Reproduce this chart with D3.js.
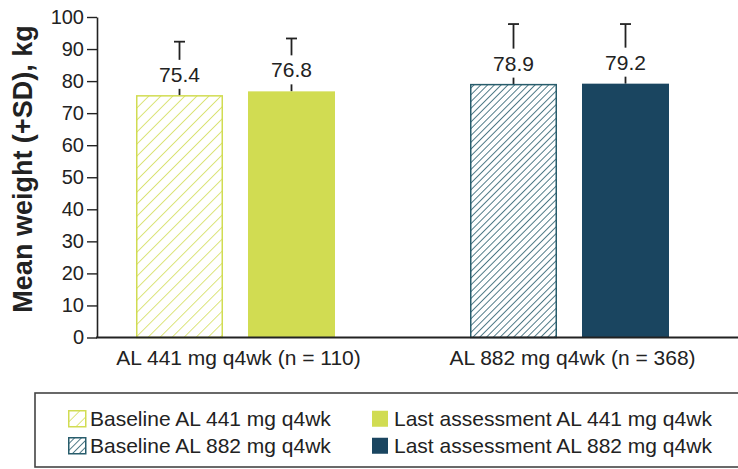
<!DOCTYPE html>
<html>
<head>
<meta charset="utf-8">
<script src="https://cdn.jsdelivr.net/npm/d3@7"></script>
<style>
  body { margin: 0; background: #fff; }
  svg { display: block; font-family: "Liberation Sans", Arial, sans-serif; }
</style>
</head>
<body>
<div id="chart"></div>
<script>
// chart data
const groups = ["AL 441 mg q4wk (n = 110)", "AL 882 mg q4wk (n = 368)"]
const series = ["baseline", "last"]
const baselineMean = [75.4, 78.9]
const baselineSD = [16.9, 18.9]
const lastMean = [76.8, 79.2]
const lastSD = [16.5, 18.6]
const yTicks = [0, 10, 20, 30, 40, 50, 60, 70, 80, 90, 100]
const legendLabels = [
  "Baseline AL 441 mg q4wk", "Last assessment AL 441 mg q4wk",
  "Baseline AL 882 mg q4wk", "Last assessment AL 882 mg q4wk"
]

const width = 738
const height = 469
const lime = "#d1dc52", navy = "#1a4560", teal = "#285d6c", ink = "#222"

const svg = d3.select("#chart")
  .append("svg")
    .attr("width", width)
    .attr("height", height)

// hatch patterns
const defs = svg.append("defs")
function hatch(id, gap, color, sw) {
  const p = defs.append("pattern")
    .attr("id", id)
    .attr("patternUnits", "userSpaceOnUse")
    .attr("width", gap).attr("height", gap)
    .attr("patternTransform", "rotate(45)")
  p.append("rect").attr("width", gap).attr("height", gap).attr("fill", "#fff")
  p.append("line")
    .attr("x1", 0).attr("y1", 0).attr("x2", 0).attr("y2", gap)
    .attr("stroke", color).attr("stroke-width", sw)
}
hatch("h441", 8.5, lime, 1.5)
hatch("h882", 4.8, teal, 1.6)

// build rows from the arrays
const rows = []
groups.forEach((g, i) => {
  rows.push({ group: g, i, key: "baseline", mean: baselineMean[i], sd: baselineSD[i] })
  rows.push({ group: g, i, key: "last", mean: lastMean[i], sd: lastSD[i] })
})
const fillOf = d => d.key == "last" ? (d.i == 0 ? lime : navy) : (d.i == 0 ? "url(#h441)" : "url(#h882)")
const strokeOf = d => d.key == "last" ? "none" : (d.i == 0 ? lime : teal)

// scales
const x0 = d3.scaleBand().domain(groups).range([68.5, 736.5])
const x1 = d3.scaleBand().domain(series).range([67.5, 266.5]).paddingInner(0.2232)
const y = d3.scaleLinear().domain([0, 100]).range([337.5, 17])

// y axis
const yAxis = svg.append("g")
  .attr("transform", "translate(97,0)")
  .call(d3.axisLeft(y).tickValues(yTicks).tickSize(10).tickPadding(3).tickSizeOuter(0))
yAxis.select(".domain").attr("stroke", ink).attr("stroke-width", 1.6)
yAxis.selectAll(".tick line").attr("stroke", ink).attr("stroke-width", 1.4)
yAxis.selectAll(".tick text")
  .attr("fill", ink)
  .style("font-size", "20px")
  .style("font-family", "Liberation Sans, Arial, sans-serif")

svg.append("text")
  .attr("transform", "translate(32,169) rotate(-90)")
  .attr("text-anchor", "middle")
  .attr("fill", ink)
  .style("font-size", "27px")
  .style("font-weight", "bold")
  .text("Mean weight (+SD), kg")

// bars
const bar = svg.append("g")
  .selectAll("g")
  .data(rows)
  .join("g")
    .attr("transform", d => `translate(${x0(d.group) + x1(d.key)},0)`)

// error bars
bar.append("line")
  .attr("x1", x1.bandwidth() / 2).attr("x2", x1.bandwidth() / 2)
  .attr("y1", d => y(d.mean)).attr("y2", d => y(d.mean + d.sd))
  .attr("stroke", ink).attr("stroke-width", 1.8)
bar.append("line")
  .attr("x1", x1.bandwidth() / 2 - 5.5).attr("x2", x1.bandwidth() / 2 + 5.5)
  .attr("y1", d => y(d.mean + d.sd)).attr("y2", d => y(d.mean + d.sd))
  .attr("stroke", ink).attr("stroke-width", 1.8)

bar.append("rect")
  .attr("x", d => d.key == "last" ? 0 : 0.75)
  .attr("width", d => d.key == "last" ? x1.bandwidth() : x1.bandwidth() - 1.5)
  .attr("y", d => y(d.mean))
  .attr("height", d => y(0) - y(d.mean))
  .attr("fill", fillOf)
  .attr("stroke", strokeOf)
  .attr("stroke-width", 1.5)

// value labels with white backing over the error line
bar.append("rect")
  .attr("x", x1.bandwidth() / 2 - 24)
  .attr("width", 48)
  .attr("y", d => y(d.mean) - 36)
  .attr("height", 29)
  .attr("fill", "#fff")
bar.append("text")
  .attr("x", x1.bandwidth() / 2)
  .attr("y", d => y(d.mean) - 14)
  .attr("text-anchor", "middle")
  .attr("fill", ink)
  .style("font-size", "21px")
  .text(d => d.mean.toFixed(1))

// x axis line and category labels
svg.append("line")
  .attr("x1", 96).attr("x2", width)
  .attr("y1", y(0)).attr("y2", y(0))
  .attr("stroke", ink).attr("stroke-width", 2)
svg.append("g")
  .selectAll("text")
  .data(groups)
  .join("text")
    .attr("x", d => x0(d) + x0.bandwidth() / 2 + 3)
    .attr("y", 365)
    .attr("text-anchor", "middle")
    .attr("fill", ink)
    .style("font-size", "21px")
    .text(d => d)

// legend
svg.append("rect")
  .attr("x", 35).attr("y", 393)
  .attr("width", 740).attr("height", 74)
  .attr("fill", "#fff")
  .attr("stroke", "#444").attr("stroke-width", 1.6)

const legend = svg.append("g")
  .selectAll("g")
  .data(legendLabels)
  .join("g")
    .attr("transform", (d, i) => `translate(${i % 2 == 0 ? 68 : 372},${i < 2 ? 410 : 437})`)
legend.append("rect")
  .attr("x", d => d.startsWith("Baseline") ? 0.75 : 0)
  .attr("y", 0.75)
  .attr("width", d => d.startsWith("Baseline") ? 17 : 16)
  .attr("height", 16)
  .attr("fill", (d, i) => [ "url(#h441)", lime, "url(#h882)", navy ][i])
  .attr("stroke", (d, i) => [ lime, "none", teal, "none" ][i])
  .attr("stroke-width", 1.5)
legend.append("text")
  .attr("x", 22)
  .attr("y", 16)
  .attr("fill", ink)
  .style("font-size", "21px")
  .text(d => d)
</script>
</body>
</html>
